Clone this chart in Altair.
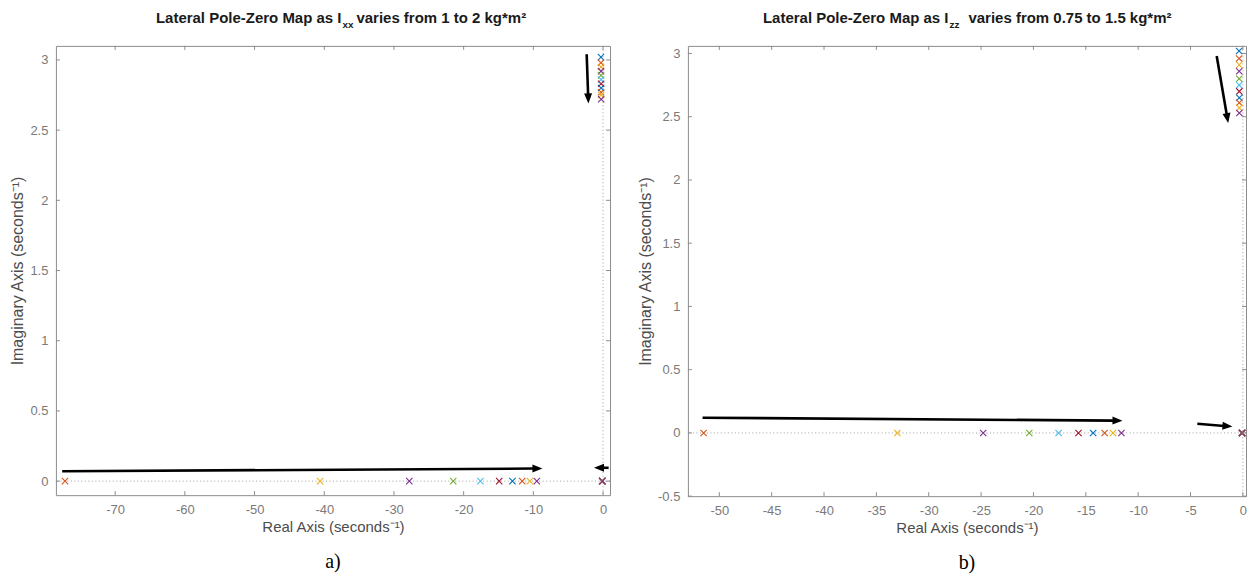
import math
import altair as alt
import pandas as pd

# Octave default colour order, cycled over the sweep cases
palette = ["#0072BD", "#D95319", "#EDB120", "#7E2F8E", "#77AC30", "#4DBEEE", "#A2142F"]

# ---------------- a) Ixx swept from 1 to 2 kg*m^2 (11 cases) ----------------
ixx_real_case = [1, 2, 3, 4, 5, 6, 7, 8, 9, 10]
ixx_real_pole = [-77.2, -40.6, -27.8, -21.5, -17.6, -14.9, -13.0, -11.6, -10.5, -9.5]
ixx_spiral_pole = [-0.12, -0.12, -0.11, -0.11, -0.11, -0.10, -0.10, -0.10, -0.10, -0.09, -0.09]
ixx_dutch_re = [-0.30, -0.30, -0.29, -0.29, -0.29, -0.28, -0.28, -0.28, -0.28, -0.27, -0.27]
ixx_dutch_im = [3.02, 2.98, 2.95, 2.92, 2.89, 2.86, 2.83, 2.80, 2.77, 2.75, 2.72]
ixx_xticks = [-70, -60, -50, -40, -30, -20, -10, 0]
ixx_yticks = [0, 0.5, 1, 1.5, 2, 2.5, 3]
ixx_xdomain = [-78.5, 1.0]
ixx_ydomain = [-0.1, 3.1]
# trend arrows: start (x1, y1) -> tip (x2, y2)
ixx_arrow_x1 = [-77.6, 0.8, -2.35]
ixx_arrow_y1 = [0.07, 0.095, 3.04]
ixx_arrow_x2 = [-8.7, -1.3, -2.1]
ixx_arrow_y2 = [0.09, 0.095, 2.69]

# ---------------- b) Izz swept from 0.75 to 1.5 kg*m^2 (11 cases) ----------------
izz_real_case = [1, 2, 3, 4, 5, 6, 7, 8, 9, 10]
izz_real_pole = [-51.5, -33.0, -24.8, -20.4, -17.6, -15.7, -14.3, -13.2, -12.4, -11.6]
izz_spiral_pole = [-0.08, -0.08, -0.08, -0.08, -0.07, -0.07, -0.07, -0.07, -0.07, -0.07, -0.07]
izz_dutch_re = [-0.36, -0.36, -0.35, -0.35, -0.35, -0.35, -0.34, -0.34, -0.34, -0.34, -0.34]
izz_dutch_im = [3.02, 2.96, 2.91, 2.86, 2.80, 2.75, 2.70, 2.65, 2.61, 2.57, 2.53]
izz_xticks = [-50, -45, -40, -35, -30, -25, -20, -15, -10, -5, 0]
izz_yticks = [-0.5, 0, 0.5, 1, 1.5, 2, 2.5, 3]
izz_xdomain = [-53.0, 0.3]
izz_ydomain = [-0.5, 3.06]
izz_arrow_x1 = [-51.6, -4.35, -2.5]
izz_arrow_y1 = [0.12, 0.073, 2.98]
izz_arrow_x2 = [-11.5, -1.0, -1.4]
izz_arrow_y2 = [0.097, 0.05, 2.45]

FONT = "Liberation Sans"
GREY_LINE = "#8c8c8c"
X_GLYPH = "M-1,-1L1,1M-1,1L1,-1"
HEAD_GLYPH = "M0,0L-1,-0.4L-1,0.4Z"
HEAD_LEN = 10  # px, matches the glyph scale below (size = (2*HEAD_LEN)^2)


def pole_table(real_case, real_pole, spiral, dutch_re, dutch_im):
    rows = []
    n = len(spiral)
    for k in range(n):
        col = palette[k % len(palette)]
        if k in real_case:
            rows.append({"x": real_pole[real_case.index(k)], "y": 0.0, "c": col})
        rows.append({"x": spiral[k], "y": 0.0, "c": col})
        rows.append({"x": dutch_re[k], "y": dutch_im[k], "c": col})
    return pd.DataFrame(rows)


def arrow_tables(x1, y1, x2, y2, xdom, ydom, W, H):
    kx = W / (xdom[1] - xdom[0])
    ky = H / (ydom[1] - ydom[0])
    shafts, heads = [], []
    for a, b, c, d in zip(x1, y1, x2, y2):
        dxp = (c - a) * kx
        dyp = -(d - b) * ky
        L = math.hypot(dxp, dyp)
        ang = math.degrees(math.atan2(dyp, dxp)) % 360
        back = (HEAD_LEN - 2) / L
        shafts.append({"x": a, "y": b, "x2": c - (c - a) * back, "y2": d - (d - b) * back})
        heads.append({"x": c, "y": d, "ang": ang})
    return pd.DataFrame(shafts), pd.DataFrame(heads)


def panel(poles, xticks, yticks, xdom, ydom, arrows, W, H, title_parts, caption):
    xs = alt.Scale(domain=xdom, nice=False, zero=False)
    ys = alt.Scale(domain=ydom, nice=False, zero=False)
    xaxis = alt.Axis(values=xticks, title="Real Axis (seconds⁻¹)", labelExpr="'' + datum.value",
                     labelFlush=False, labelPadding=8, titlePadding=3, titleFontSize=15)
    yaxis = alt.Axis(values=yticks, title="Imaginary Axis (seconds⁻¹)", labelExpr="'' + datum.value",
                     labelPadding=8, titlePadding=4, titleFontSize=16)
    X = alt.X("x:Q", scale=xs, axis=xaxis)
    Y = alt.Y("y:Q", scale=ys, axis=yaxis)

    zero_h = alt.Chart(pd.DataFrame({"y": [0.0]})).mark_rule(
        color="#a0a0a0", strokeDash=[1, 2.5], strokeWidth=1).encode(y="y:Q")
    zero_v = alt.Chart(pd.DataFrame({"x": [0.0]})).mark_rule(
        color="#a0a0a0", strokeDash=[1, 2.5], strokeWidth=1).encode(x="x:Q")

    marks = alt.Chart(poles).mark_point(shape=X_GLYPH, size=40, strokeWidth=1.1, filled=False, opacity=1).encode(
        x=X, y=Y, color=alt.Color("c:N", scale=None))

    shafts, heads = arrows
    shaft = alt.Chart(shafts).mark_rule(color="black", strokeWidth=2.6).encode(
        x="x:Q", y="y:Q", x2="x2:Q", y2="y2:Q")
    head = alt.Chart(heads).mark_point(shape=HEAD_GLYPH, size=(2 * HEAD_LEN) ** 2, filled=True,
                                       color="black", opacity=1).encode(
        x="x:Q", y="y:Q", angle=alt.Angle("ang:Q", scale=None))

    # inward ticks on all four sides of the box
    tx = pd.DataFrame({"x": xticks})
    ty = pd.DataFrame({"y": yticks})
    tick_style = dict(color=GREY_LINE, strokeWidth=1)
    t_bottom = alt.Chart(tx).mark_rule(**tick_style).encode(x="x:Q", y=alt.value(H), y2=alt.value(H - 4))
    t_top = alt.Chart(tx).mark_rule(**tick_style).encode(x="x:Q", y=alt.value(0), y2=alt.value(4))
    t_left = alt.Chart(ty).mark_rule(**tick_style).encode(y="y:Q", x=alt.value(0), x2=alt.value(4))
    t_right = alt.Chart(ty).mark_rule(**tick_style).encode(y="y:Q", x=alt.value(W), x2=alt.value(W - 4))

    head_txt, sub_txt, tail_txt, x_i, x_tail = title_parts
    tdf = pd.DataFrame({"t": [0]})
    t1 = alt.Chart(tdf).mark_text(text=head_txt, font=FONT, fontSize=15, fontWeight="bold", align="right",
                                  baseline="alphabetic", color="#1a1a1a").encode(
        x=alt.value(x_i), y=alt.value(-23))
    t2 = alt.Chart(tdf).mark_text(text=sub_txt, font=FONT, fontSize=10, fontWeight="bold", align="left",
                                  baseline="alphabetic", color="#1a1a1a").encode(
        x=alt.value(x_i + 1), y=alt.value(-18))
    t3 = alt.Chart(tdf).mark_text(text=tail_txt, font=FONT, fontSize=15, fontWeight="bold", align="left",
                                  baseline="alphabetic", color="#1a1a1a").encode(
        x=alt.value(x_tail), y=alt.value(-23))
    cap = alt.Chart(tdf).mark_text(text=caption, font="Liberation Serif", fontSize=20, align="center",
                                   baseline="alphabetic", color="black").encode(
        x=alt.value(W / 2), y=alt.value(H + 73))

    return alt.layer(zero_h, zero_v, marks, shaft, head, t_bottom, t_top, t_left, t_right,
                     t1, t2, t3, cap).properties(width=W, height=H)


WL, HL = 555, 450
WR, HR = 559, 451

left = panel(
    pole_table(ixx_real_case, ixx_real_pole, ixx_spiral_pole, ixx_dutch_re, ixx_dutch_im),
    ixx_xticks, ixx_yticks, ixx_xdomain, ixx_ydomain,
    arrow_tables(ixx_arrow_x1, ixx_arrow_y1, ixx_arrow_x2, ixx_arrow_y2, ixx_xdomain, ixx_ydomain, WL, HL),
    WL, HL,
    ("Lateral Pole-Zero Map as I", "xx", "varies from 1 to 2 kg*m²", 286, 301),
    "a)")

right = panel(
    pole_table(izz_real_case, izz_real_pole, izz_spiral_pole, izz_dutch_re, izz_dutch_im),
    izz_xticks, izz_yticks, izz_xdomain, izz_ydomain,
    arrow_tables(izz_arrow_x1, izz_arrow_y1, izz_arrow_x2, izz_arrow_y2, izz_xdomain, izz_ydomain, WR, HR),
    WR, HR,
    ("Lateral Pole-Zero Map as I", "zz", "varies from 0.75 to 1.5 kg*m²", 261, 281),
    "b)")

chart = alt.hconcat(left, right, spacing=26).properties(
    padding={"left": 9, "top": 9.5, "right": 5, "bottom": 0},
    background="white",
).configure_view(stroke=GREY_LINE, strokeWidth=1).configure_axis(
    labelFont=FONT, labelFontSize=13, labelColor="#7a7a7a",
    titleFont=FONT, titleColor="#4d4d4d", titleFontWeight="normal",
    domain=False, ticks=False, tickSize=0, grid=False,
)

chart.save("out.html", embed_options={"renderer": "svg", "actions": False})
